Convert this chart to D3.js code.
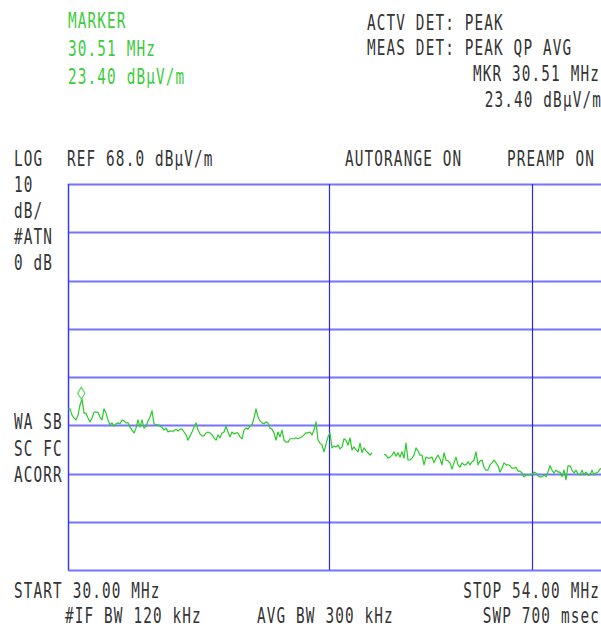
<!DOCTYPE html>
<html>
<head>
<meta charset="utf-8">
<script src="https://cdn.jsdelivr.net/npm/d3@7"></script>
<style>
  html, body { margin: 0; padding: 0; background: #fff; }
  svg { display: block; }
  text { font-family: "DejaVu Sans Mono", "Liberation Mono", monospace; font-size: 16.3px; letter-spacing: 1.3px; }
</style>
</head>
<body>
<svg id="chart" width="601" height="627"></svg>
<script>
// ---- data ----
const startMHz = 30.00;
const stopMHz = 54.00;
const refLevel = 68.0;      // dBµV/m, top of screen
const dbPerDiv = 10;
const numDivs = 8;
const gridFreqs = [40, 50]; // MHz, vertical graticule lines (log axis)
const markerFreq = 30.51;   // MHz
const markerLevel = 23.40;  // dBµV/m

// measured trace (dBµV/m), one value per sweep point, null = no data
const levels = [
  21.4,21.4,20.1,19.5,19.1,20.1,22.2,23.4,20.5,20.5,
  19.5,18.7,19.5,20.7,20.7,20.7,19.7,19.1,21.4,20.5,
  19.1,18.1,18.5,17.8,18.3,18.5,18.3,19.1,18.9,18.5,
  18.5,17.6,17.0,16.4,17.4,19.1,17.6,19.1,17.4,17.8,
  18.9,19.7,21.0,18.3,18.1,18.1,17.8,17.6,17.0,17.4,
  16.6,16.8,16.8,16.8,17.2,16.8,17.2,17.2,16.6,16.0,
  14.9,15.8,16.6,17.6,18.5,17.0,16.2,15.8,15.8,16.4,
  16.6,16.4,16.0,15.4,14.9,16.0,15.4,16.4,16.6,17.8,
  16.6,15.6,16.6,16.2,16.4,16.4,15.6,15.2,17.0,17.4,
  17.2,17.8,18.1,19.5,21.4,19.7,18.9,18.5,18.3,18.7,
  18.5,17.4,17.2,16.4,14.9,16.6,15.6,17.0,14.9,14.5,
  14.5,15.2,15.2,15.2,15.4,15.2,15.4,15.6,16.0,16.4,
  16.4,16.6,16.0,17.0,18.7,14.9,14.3,13.9,12.5,14.1,
  15.6,16.4,13.3,13.7,13.5,13.9,13.1,13.5,15.2,14.9,
  13.9,15.4,12.9,13.5,12.9,12.5,14.3,12.3,13.3,12.7,
  12.3,11.8,12.3,null,null,null,null,null,12.0,11.8,
  11.2,11.4,11.8,12.5,11.6,12.3,11.4,12.5,11.2,14.3,
  10.8,10.8,11.2,11.8,13.3,12.7,11.8,11.8,9.8,11.4,
  11.2,11.2,11.4,10.2,11.2,11.8,11.0,9.8,12.3,10.8,
  10.6,10.2,8.9,10.2,11.4,9.8,9.3,10.2,9.8,9.8,
  10.4,9.8,10.4,10.8,12.5,9.8,10.6,10.8,9.3,8.7,
  8.7,9.8,10.2,10.8,10.2,9.6,8.3,9.1,10.2,9.8,
  9.8,9.6,9.1,9.1,9.3,8.5,8.5,8.1,7.3,7.7,
  7.7,7.7,7.7,8.3,8.1,7.5,7.3,7.3,7.7,7.3,
  8.3,9.6,8.7,8.1,8.7,8.3,8.3,7.3,8.7,6.7,
  9.6,9.6,8.7,8.1,8.7,7.9,7.7,8.7,7.7,8.3,
  7.7,7.7,8.7,7.7,8.1,8.3,8.9,9.1
];

// annotation texts
const markerTexts = ["MARKER", "30.51 MHz", "23.40 dB\u00B5V/m"];
const detTexts = ["ACTV DET: PEAK", "MEAS DET: PEAK QP AVG"];
const mkrTexts = ["MKR 30.51 MHz", "23.40 dB\u00B5V/m"];
const headerTexts = ["LOG", "REF 68.0 dB\u00B5V/m", "AUTORANGE ON", "PREAMP ON"];
const leftTopTexts = ["10", "dB/", "#ATN", "0 dB"];
const leftBottomTexts = ["WA SB", "SC FC", "ACORR"];
const footerTexts = ["START 30.00 MHz", "STOP 54.00 MHz", "#IF BW 120 kHz", "AVG BW 300 kHz", "SWP 700 msec"];

// ---- layout ----
const svg = d3.select("#chart");
const plot = { left: 68, right: 602, top: 184, bottom: 570 };

const x = d3.scaleLog().domain([startMHz, stopMHz]).range([plot.left, plot.right]);
const y = d3.scaleLinear().domain([refLevel - dbPerDiv * numDivs, refLevel]).range([plot.bottom, plot.top]);

svg.append("rect").attr("width", 601).attr("height", 627).attr("fill", "#fff");

// sweep points, log spaced
const n = levels.length;
const trace = levels.map((v, i) => ({
  f: startMHz * Math.pow(stopMHz / startMHz, i / (n - 1)),
  v: v
}));

// graticule
const hLevels = d3.range(0, numDivs + 1).map(k => refLevel - k * dbPerDiv);
svg.append("g").selectAll("line").data(hLevels).join("line")
  .attr("x1", plot.left).attr("x2", plot.right)
  .attr("y1", d => Math.round(y(d)) + 0.5).attr("y2", d => Math.round(y(d)) + 0.5)
  .attr("stroke", "#7474ff").attr("stroke-width", 2);

svg.append("line")
  .attr("x1", x(startMHz) + 0.5).attr("x2", x(startMHz) + 0.5)
  .attr("y1", plot.top).attr("y2", plot.bottom)
  .attr("stroke", "#3a3af5").attr("stroke-width", 1.5);

svg.append("g").selectAll("line").data(gridFreqs).join("line")
  .attr("x1", d => Math.round(x(d)) + 0.5).attr("x2", d => Math.round(x(d)) + 0.5)
  .attr("y1", plot.top).attr("y2", plot.bottom)
  .attr("stroke", "#2a2ae8").attr("stroke-width", 1.2);

// trace
svg.append("clipPath").attr("id", "clip").append("rect")
  .attr("x", plot.left).attr("y", plot.top)
  .attr("width", plot.right - plot.left).attr("height", plot.bottom - plot.top);

const line = d3.line()
  .defined(d => d.v !== null)
  .x(d => x(d.f))
  .y(d => y(d.v));

svg.append("path").datum(trace)
  .attr("clip-path", "url(#clip)")
  .attr("fill", "none")
  .attr("stroke", "#2bc92b")
  .attr("stroke-width", 1.2)
  .attr("stroke-linejoin", "round")
  .attr("d", line);

// marker diamond sitting on the trace peak
const mx = x(markerFreq) - 2, my = y(markerLevel);
svg.append("path")
  .attr("d", `M${mx},${my} L${mx - 3.5},${my - 6} L${mx},${my - 12} L${mx + 3.5},${my - 6} Z`)
  .attr("fill", "none").attr("stroke", "#5fd55f").attr("stroke-width", 1.2);

// text helper (tall condensed instrument font)
function label(t, xPos, yPos, color, anchor) {
  svg.append("text")
    .attr("transform", `translate(${xPos},${yPos}) scale(0.88,1.35)`)
    .attr("text-anchor", anchor || "start")
    .attr("fill", color || "#333")
    .text(t);
}

const green = "#3ccc3c";
label(markerTexts[0], 68, 28, green);
label(markerTexts[1], 68, 56, green);
label(markerTexts[2], 68, 84, green);

label(detTexts[0], 367, 30);
label(detTexts[1], 367, 55);
label(mkrTexts[0], 600, 81, null, "end");
label(mkrTexts[1], 602, 107, null, "end");

label(headerTexts[0], 14, 166);
label(headerTexts[1], 67, 166);
label(headerTexts[2], 345, 166);
label(headerTexts[3], 507, 166);

leftTopTexts.forEach((t, i) => label(t, 14, 192 + i * 26));
leftBottomTexts.forEach((t, i) => label(t, 14, 429 + i * 26.5));

label(footerTexts[0], 14, 598);
label(footerTexts[1], 600, 598, null, "end");
label(footerTexts[2], 65, 623);
label(footerTexts[3], 257, 623);
label(footerTexts[4], 600, 623, null, "end");
</script>
</body>
</html>
